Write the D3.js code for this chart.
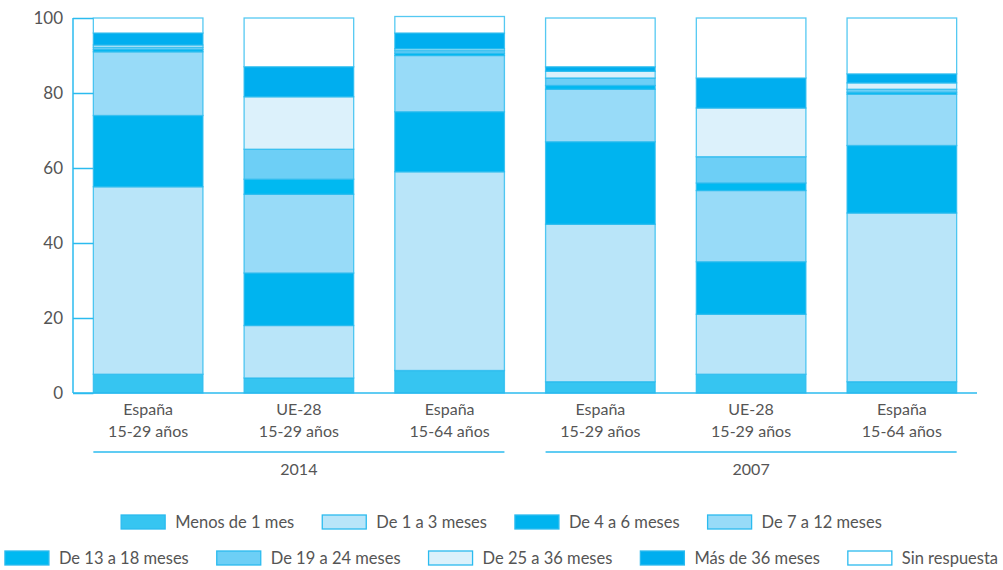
<!DOCTYPE html>
<html>
<head>
<meta charset="utf-8">
<script src="https://cdn.jsdelivr.net/npm/d3@7"></script>
<style>
  body { margin: 0; background: #fff; }
  text { font-family: "Lato", "Open Sans", sans-serif; fill: #555; }
</style>
</head>
<body>
<div id="chart"></div>
<script>
// categories and groups
const barLines = [
  ["España", "15-29 años"], ["UE-28", "15-29 años"], ["España", "15-64 años"],
  ["España", "15-29 años"], ["UE-28", "15-29 años"], ["España", "15-64 años"]
];
const barIds = ["es1529_14", "ue1529_14", "es1564_14", "es1529_07", "ue1529_07", "es1564_07"];
const years = ["2014", "2007"];
const seriesNames = ["Menos de 1 mes", "De 1 a 3 meses", "De 4 a 6 meses", "De 7 a 12 meses",
  "De 13 a 18 meses", "De 19 a 24 meses", "De 25 a 36 meses", "Más de 36 meses", "Sin respuesta"];
const yTicks = [0, 20, 40, 60, 80, 100];

// values per series, in bar order
const menos1   = [5, 4, 6, 3, 5, 3];
const de1a3    = [50, 14, 53, 42, 16, 45];
const de4a6    = [19, 14, 16, 22, 14, 18];
const de7a12   = [17, 21, 15, 14, 19, 13.7];
const de13a18  = [0.6, 4, 0.6, 1, 2, 0.5];
const de19a24  = [0.6, 8, 0.7, 2, 7, 0.8];
const de25a36  = [0.6, 14, 0.5, 1.8, 13, 1.7];
const mas36    = [3.2, 8, 4.2, 1.2, 8, 2.4];
const sinResp  = [4, 13, 4.4, 13, 16, 14.9];

const colors = ["#36c5f1", "#b9e5f9", "#00b4ef", "#98dbf8", "#00b9f1", "#6dcff6", "#dcf1fb", "#00aeef", "#ffffff"];

const allSeries = [menos1, de1a3, de4a6, de7a12, de13a18, de19a24, de25a36, mas36, sinResp];
const table = barIds.map((id, i) => {
  const row = {id: id};
  seriesNames.forEach((s, k) => row[s] = allSeries[k][i]);
  return row;
});

const width = 1003, height = 570;
const svg = d3.select("#chart").append("svg")
  .attr("width", width).attr("height", height);

const x = d3.scaleBand()
  .domain(barIds)
  .range([73, 977])
  .paddingInner(0.273)
  .paddingOuter(0.135);

const y = d3.scaleLinear()
  .domain([0, 100])
  .range([393, 18]);

const layers = d3.stack().keys(seriesNames)(table);

const lineColor = "#2bbbef";

// bars
svg.append("g")
  .selectAll("g")
  .data(layers)
  .join("g")
    .attr("fill", (d, i) => colors[i])
  .selectAll("rect")
  .data(d => d)
  .join("rect")
    .attr("x", d => x(d.data.id))
    .attr("y", d => y(d[1]))
    .attr("width", x.bandwidth())
    .attr("height", d => y(d[0]) - y(d[1]))
    .attr("stroke", lineColor)
    .attr("stroke-opacity", 0.8)
    .attr("stroke-width", 1.3);

// y axis
const yAxis = svg.append("g")
  .attr("transform", "translate(73,0)")
  .call(d3.axisLeft(y).tickValues(yTicks).tickSize(-(x(barIds[0]) - 73)).tickPadding(10));
yAxis.select(".domain").remove();
yAxis.selectAll(".tick line").attr("stroke", lineColor).attr("stroke-width", 1.5);
yAxis.selectAll(".tick text").style("font-size", "17px").attr("fill", "#555");

svg.append("line")
  .attr("x1", 73).attr("x2", 73).attr("y1", y(100)).attr("y2", y(0))
  .attr("stroke", lineColor).attr("stroke-width", 1.5);
svg.append("line")
  .attr("x1", 73).attr("x2", 977).attr("y1", y(0)).attr("y2", y(0))
  .attr("stroke", lineColor).attr("stroke-width", 1.5);

// category labels
const cat = svg.append("g").selectAll("text")
  .data(barIds)
  .join("text")
    .attr("text-anchor", "middle")
    .style("font-size", "16px");
cat.append("tspan").attr("x", d => x(d) + x.bandwidth() / 2).attr("y", 415)
  .text((d, i) => barLines[i][0]);
cat.append("tspan").attr("x", d => x(d) + x.bandwidth() / 2).attr("y", 437)
  .text((d, i) => barLines[i][1]);

// year groups
years.forEach((yr, g) => {
  const x0 = x(barIds[g * 3]), x1 = x(barIds[g * 3 + 2]) + x.bandwidth();
  svg.append("line")
    .attr("x1", x0).attr("x2", x1).attr("y1", 452).attr("y2", 452)
    .attr("stroke", lineColor).attr("stroke-width", 1.5);
  svg.append("text")
    .attr("x", (x0 + x1) / 2).attr("y", 475)
    .attr("text-anchor", "middle")
    .style("font-size", "16px")
    .text(yr);
});

// legend
const rows = [seriesNames.slice(0, 4), seriesNames.slice(4)];
rows.forEach((names, r) => {
  const g = svg.append("g");
  let cx = 0;
  names.forEach(name => {
    const k = seriesNames.indexOf(name);
    g.append("rect")
      .attr("x", cx).attr("y", -7)
      .attr("width", 44).attr("height", 14)
      .attr("fill", colors[k])
      .attr("stroke", lineColor).attr("stroke-width", 1.3);
    const t = g.append("text")
      .attr("x", cx + 54).attr("y", 6)
      .style("font-size", "16.5px")
      .text(name);
    cx += 54 + t.node().getComputedTextLength() + 28;
  });
  const total = cx - 28;
  g.attr("transform", `translate(${(width - total) / 2},${r === 0 ? 522 : 558})`);
});
</script>
</body>
</html>
